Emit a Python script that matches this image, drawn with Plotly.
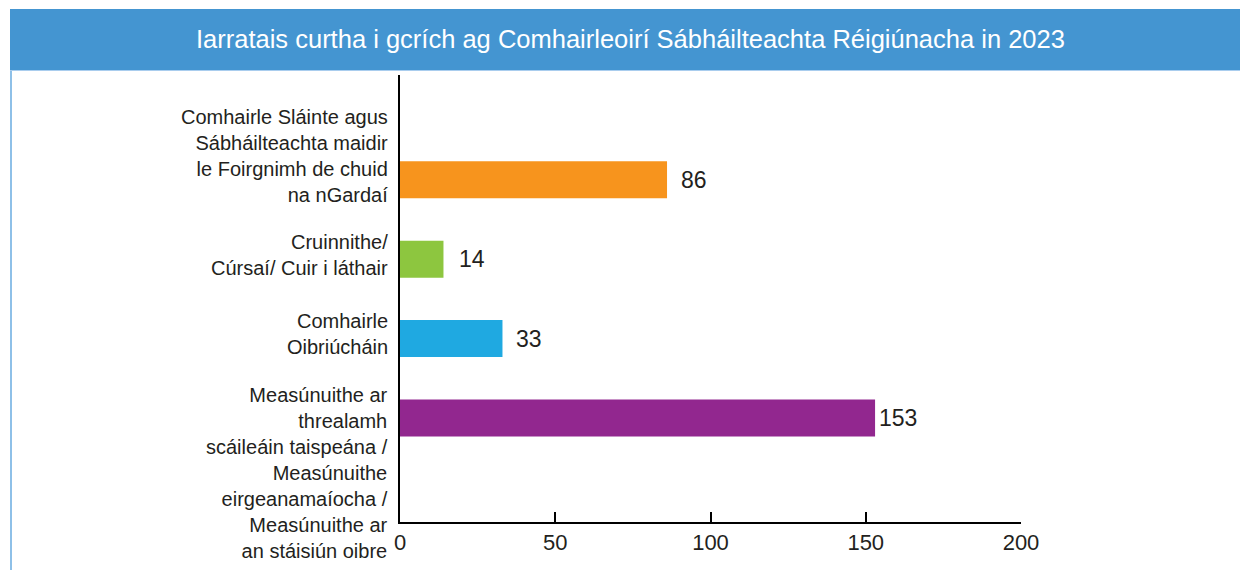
import plotly.graph_objects as go

title = "Iarratais curtha i gcrích ag Comhairleoirí Sábháilteachta Réigiúnacha in 2023"
categories = [
    "Comhairle Sláinte agus<br>Sábháilteachta maidir<br>le Foirgnimh de chuid<br>na nGardaí",
    "Cruinnithe/<br>Cúrsaí/ Cuir i láthair",
    "Comhairle<br>Oibriúcháin",
    "Measúnuithe ar<br>threalamh<br>scáileáin taispeána /<br>Measúnuithe<br>eirgeanamaíocha /<br>Measúnuithe ar<br>an stáisiún oibre",
]
values = [86, 14, 33, 153]
colors = ["#F7941D", "#8DC63F", "#1FA9E1", "#92278F"]
x_ticks = [0, 50, 100, 150, 200]

label_yshift = [24, 4, 5, -55]
value_xshift = [12, 14, 12, 2]

ids = list(range(len(categories)))

fig = go.Figure()
fig.add_trace(go.Bar(
    x=values, y=ids, orientation="h",
    marker=dict(color=colors, line=dict(width=0)),
    width=0.466, hoverinfo="x",
))

TXT = "#231F20"
FONT = "Liberation Sans, Arial, sans-serif"

W, H = 1240, 570
L, R, T, B = 400, 1240 - 1021, 75, 570 - 522
pw = W - L - R
ph = H - T - B

def px_x(px):
    return (px - L) / pw

def px_y(py):
    return (H - B - py) / ph

annotations = []
for i, (c, v) in enumerate(zip(categories, values)):
    annotations.append(dict(
        x=0, y=i, xref="x", yref="y", text=c, showarrow=False,
        xanchor="right", yanchor="middle", align="right",
        xshift=-10, yshift=label_yshift[i],
        font=dict(size=20, color=TXT, family=FONT),
    ))
    annotations.append(dict(
        x=v, y=i, xref="x", yref="y", text=str(v), showarrow=False,
        xanchor="left", yanchor="middle", xshift=value_xshift[i],
        font=dict(size=23, color=TXT, family=FONT),
    ))

annotations.append(dict(
    x=px_x(630), y=px_y(39), xref="paper", yref="paper", text=title,
    showarrow=False, xanchor="center", yanchor="middle",
    font=dict(size=25.5, color="white", family=FONT),
))

shapes = [
    dict(type="rect", xref="paper", yref="paper",
         x0=px_x(10), x1=px_x(1245), y0=px_y(70), y1=px_y(9),
         fillcolor="#4495D1", line=dict(width=0), layer="below"),
    dict(type="line", xref="paper", yref="paper",
         x0=px_x(10), x1=px_x(1245), y0=px_y(70.5), y1=px_y(70.5),
         line=dict(color="#A9CDEE", width=1)),
    dict(type="line", xref="paper", yref="paper",
         x0=px_x(11), x1=px_x(11), y0=px_y(71), y1=px_y(575),
         line=dict(color="#8EC0E8", width=2)),
]

fig.update_layout(
    width=W, height=H,
    margin=dict(l=L, r=R, t=T, b=B, pad=0),
    paper_bgcolor="white", plot_bgcolor="white",
    showlegend=False,
    annotations=annotations, shapes=shapes,
    font=dict(family=FONT, color=TXT),
    xaxis=dict(
        range=[0, 200], tickvals=x_ticks, ticktext=[str(t) for t in x_ticks],
        showgrid=False, zeroline=False, showline=True, linecolor="black", linewidth=2,
        ticks="inside", ticklen=10, tickwidth=2, tickcolor="black",
        tickfont=dict(size=22, color=TXT, family=FONT),
    ),
    yaxis=dict(
        range=[4.31, -1.32], showticklabels=False, showgrid=False, zeroline=False,
        showline=True, linecolor="black", linewidth=2, ticks="",
    ),
)

fig.write_html(
    "out.html",
    config={"displayModeBar": False},
    post_script="document.body.style.margin='0';document.body.style.overflow='hidden';",
)
